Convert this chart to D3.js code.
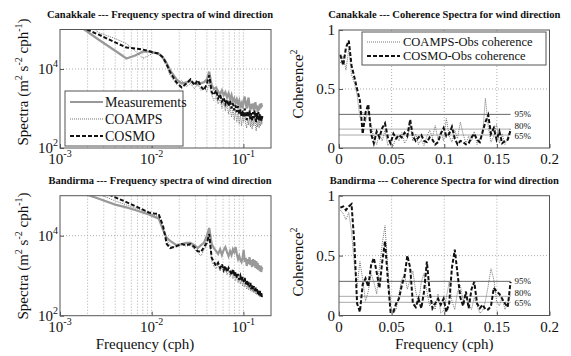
<!DOCTYPE html>
<html>
<head>
<meta charset="utf-8">
<script src="https://cdn.jsdelivr.net/npm/d3@7"></script>
<style>
body { margin: 0; background: #fff; }
svg text { font-family: "Liberation Serif", "Times New Roman", "DejaVu Serif", serif; fill: #111; }
</style>
</head>
<body>
<svg id="chart" width="571" height="356" font-family="Liberation Serif, DejaVu Serif, serif"></svg>
<script>

// spectra frequencies (cph)
var specFreq = [0.0013, 0.00265, 0.0040, 0.0053, 0.0066, 0.0080, 0.0093, 0.0106, 0.0119, 0.0133, 0.0146,
  0.0159, 0.0186, 0.0212, 0.0239, 0.0265, 0.0292, 0.0318, 0.0345, 0.0371, 0.0398,
  0.0424, 0.0451, 0.0477, 0.0504, 0.0530, 0.0557, 0.0583, 0.0610, 0.0636, 0.0663,
  0.0689, 0.0716, 0.0742, 0.0769, 0.0795, 0.0822, 0.0848, 0.0875, 0.0901, 0.0928,
  0.0954, 0.0981, 0.1007, 0.1034, 0.1060, 0.1087, 0.1113, 0.1140, 0.1166, 0.1193,
  0.1219, 0.1246, 0.1272, 0.1299, 0.1325, 0.1352, 0.1378, 0.1405, 0.1431, 0.1458,
  0.1484, 0.1511, 0.1537, 0.1564, 0.1590, 0.1617];

// Canakkale spectra
var canMeas = [175000, 55000, 29000, 18500, 22000, 27500, 27500, 26000, 24500, 19500, 14000,
  9200, 5500, 4300, 4600, 4900, 4300, 4100, 4400, 4600, 5400,
  8600, 3900, 3100, 3400, 2700, 2300, 2900, 2160, 2600, 1900,
  2400, 1700, 2200, 1500, 1800, 1350, 1700, 1300, 1600, 1150,
  1350, 1000, 1600, 2000, 1300, 1000, 1500, 1900, 1100, 900,
  1300, 1000, 1350, 900, 1150, 1450, 950, 1200, 810, 1150,
  900, 1300, 1000, 1350, 1150, 1200];
var canCoamps = [300000, 83000, 59000, 44000, 29000, 18500, 22000, 26000, 23000, 17500, 11500,
  6900, 4100, 5200, 3600, 4300, 3200, 4100, 2900, 3600, 2600,
  4600, 2200, 1600, 2000, 1300, 1700, 1000, 1450, 860, 1300,
  720, 1150, 600, 950, 510, 860, 450, 760, 400, 720,
  360, 640, 450, 810, 400, 320, 570, 380, 640, 340,
  540, 300, 510, 360, 570, 400, 270, 480, 340, 540,
  320, 510, 360, 480, 400, 570];
var canCosmo = [150000, 74000, 47000, 35000, 33000, 31000, 28500, 26000, 24500, 19500, 13000,
  8200, 4600, 3400, 4300, 5500, 3900, 5200, 3600, 2900, 4100,
  6900, 2600, 2200, 2900, 1800, 2300, 1500, 1900, 1300, 1700,
  1150, 1600, 1000, 1350, 900, 1200, 810, 1150, 720, 950,
  640, 900, 600, 1000, 720, 510, 860, 600, 900, 540,
  760, 480, 810, 570, 900, 640, 450, 760, 540, 810,
  510, 720, 480, 680, 570, 640];

// Bandirma spectra
var banMeas = [148000, 84000, 60000, 51000, 44000, 38000, 34000, 30000, 27000, 14000, 8800,
  7400, 5800, 6200, 6600, 6600, 5800, 4900, 5800, 6600, 9800,
  15600, 6200, 4900, 4100, 3500, 4600, 3300, 4400, 5200, 3900,
  3100, 4100, 3300, 4600, 3900, 5200, 3500, 2600, 3100, 2460,
  2200, 2900, 4400, 2200, 2800, 1750, 2600, 1950, 2900, 1850,
  2460, 1650, 2600, 1750, 2460, 1560, 2300, 1470, 2100, 1390,
  1850, 1300, 1750, 1240, 1560, 1470];
var banCoamps = [220000, 110000, 74000, 59000, 49000, 43000, 37000, 33000, 30000, 15600, 7800,
  5500, 5200, 5800, 5500, 5800, 4600, 3700, 3100, 4400, 5800,
  9300, 2300, 1750, 1470, 1950, 1300, 1650, 1170, 1560, 1040,
  1390, 930, 1240, 830, 1100, 740, 980, 660, 880, 620,
  780, 550, 740, 520, 660, 460, 585, 440, 550, 415,
  520, 390, 490, 370, 460, 350, 440, 330, 415, 310,
  390, 295, 370, 310, 350, 370];
var banCosmo = [280000, 140000, 91000, 69000, 55000, 45000, 38000, 36000, 35000, 17500, 6200,
  4900, 5500, 6200, 5800, 6200, 5200, 4100, 3900, 5200, 6600,
  11000, 2800, 2200, 1750, 2100, 1560, 1950, 1390, 1750, 1240,
  1560, 1300, 1040, 1470, 980, 1240, 880, 1100, 780, 980,
  740, 930, 700, 880, 620, 780, 550, 700, 520, 660,
  460, 585, 440, 550, 415, 520, 390, 460, 350, 440,
  330, 415, 310, 390, 295, 330];

// coherence frequencies (cph)
var cohFreq = [0.0013, 0.0040, 0.0066, 0.0093, 0.0119, 0.0146, 0.0172, 0.0199, 0.0225, 0.0252,
  0.0278, 0.0305, 0.0331, 0.0358, 0.0384, 0.0411, 0.0437, 0.0464, 0.0490, 0.0517,
  0.0543, 0.0570, 0.0596, 0.0623, 0.0649, 0.0676, 0.0702, 0.0729, 0.0755, 0.0782,
  0.0808, 0.0835, 0.0861, 0.0888, 0.0914, 0.0941, 0.0967, 0.0994, 0.1020, 0.1047,
  0.1073, 0.1100, 0.1126, 0.1153, 0.1179, 0.1206, 0.1232, 0.1259, 0.1285, 0.1312,
  0.1338, 0.1365, 0.1391, 0.1418, 0.1444, 0.1471, 0.1497, 0.1524, 0.1550, 0.1577,
  0.1603, 0.1630];

var canCohCoamps = [0.72, 0.78, 0.66, 0.84, 0.62, 0.55, 0.45, 0.26, 0.30, 0.22,
  0.33, 0.20, 0.08, 0.03, 0.12, 0.06, 0.15, 0.02, 0.05, 0.02,
  0.10, 0.06, 0.13, 0.04, 0.08, 0.20, 0.06, 0.12, 0.03, 0.07,
  0.02, 0.10, 0.15, 0.09, 0.19, 0.07, 0.14, 0.06, 0.25, 0.10,
  0.05, 0.15, 0.08, 0.22, 0.12, 0.04, 0.10, 0.06, 0.14, 0.03,
  0.08, 0.12, 0.42, 0.18, 0.05, 0.10, 0.20, 0.04, 0.12, 0.03,
  0.09, 0.17];
var canCohCosmo = [0.79, 0.70, 0.85, 0.91, 0.70, 0.60, 0.50, 0.40, 0.12, 0.30,
  0.37, 0.12, 0.04, 0.14, 0.09, 0.17, 0.21, 0.09, 0.04, 0.12,
  0.08, 0.11, 0.09, 0.13, 0.10, 0.24, 0.10, 0.06, 0.09, 0.11,
  0.06, 0.05, 0.09, 0.07, 0.03, 0.05, 0.12, 0.17, 0.10, 0.12,
  0.18, 0.08, 0.03, 0.06, 0.05, 0.03, 0.04, 0.09, 0.12, 0.07,
  0.05, 0.14, 0.22, 0.28, 0.12, 0.17, 0.07, 0.14, 0.04, 0.06,
  0.07, 0.15];
var banCohCoamps = [0.88, 0.85, 0.80, 0.86, 0.70, 0.42, 0.25, 0.45, 0.30, 0.12,
  0.20, 0.35, 0.28, 0.18, 0.40, 0.60, 0.75, 0.40, 0.08, 0.02,
  0.05, 0.18, 0.30, 0.34, 0.22, 0.30, 0.37, 0.20, 0.10, 0.28,
  0.35, 0.20, 0.08, 0.12, 0.05, 0.18, 0.02, 0.04, 0.15, 0.28,
  0.12, 0.05, 0.20, 0.25, 0.12, 0.18, 0.10, 0.05, 0.15, 0.08,
  0.02, 0.04, 0.12, 0.25, 0.39, 0.30, 0.12, 0.08, 0.15, 0.05,
  0.10, 0.18];
var banCohCosmo = [0.90, 0.91, 0.88, 0.91, 0.93, 0.60, 0.10, 0.03, 0.26, 0.31,
  0.24, 0.42, 0.48, 0.36, 0.23, 0.45, 0.62, 0.30, 0.03, 0.03,
  0.10, 0.14, 0.25, 0.33, 0.50, 0.40, 0.10, 0.07, 0.14, 0.06,
  0.20, 0.45, 0.20, 0.06, 0.10, 0.14, 0.09, 0.14, 0.03, 0.10,
  0.40, 0.55, 0.35, 0.15, 0.08, 0.20, 0.06, 0.22, 0.28, 0.10,
  0.06, 0.09, 0.05, 0.05, 0.08, 0.23, 0.20, 0.18, 0.14, 0.10,
  0.07, 0.28];

// significance levels
var sigLevels = [0.285, 0.16, 0.11];
var sigNames = ["95%", "80%", "65%"];
var sigEnd = 0.163;

// ticks
var specXTicks = [[1e-3, "-3"], [1e-2, "-2"], [1e-1, "-1"]];
var specYTicks = [[1e2, "2"], [1e4, "4"]];
var cohXTicks = [0, 0.05, 0.1, 0.15, 0.2];
var cohYTicks = [0, 0.5, 1];

var specNames = ["Measurements", "COAMPS", "COSMO"];
var cohNames = ["COAMPS-Obs coherence", "COSMO-Obs coherence"];

var SERIF = "'Liberation Serif', 'DejaVu Serif', serif";

var sty = {
  meas:   {stroke: "#999", w: 2.2, dash: null},
  coamps: {stroke: "#777", w: 1, dash: "1,1"},
  cosmo:  {stroke: "#111", w: 2, dash: "4,2"}
};

var svg = d3.select("#chart");
svg.append("rect").attr("width", 571).attr("height", 356).attr("fill", "#fff");

function styled(sel, s) {
  sel.attr("fill", "none").attr("stroke", s.stroke).attr("stroke-width", s.w);
  if (s.dash) sel.attr("stroke-dasharray", s.dash);
  return sel;
}

function txt(g, x, y, size) {
  return g.append("text").attr("x", x).attr("y", y)
    .style("font-family", SERIF).style("font-size", size + "px");
}

function powText(g, x, y, exp, anchor) {
  var t = txt(g, x, y, 15).attr("text-anchor", anchor);
  t.append("tspan").text("10");
  t.append("tspan").attr("dy", -7).style("font-size", "10px").text(exp);
  return t;
}

function frame(g, p) {
  g.append("rect").attr("x", p.x0).attr("y", p.y0)
    .attr("width", p.x1 - p.x0).attr("height", p.y1 - p.y0)
    .attr("fill", "none").attr("stroke", "#555").attr("stroke-width", 1);
}

function spectraPanel(p) {
  var x = d3.scaleLog().domain([1e-3, 0.2]).range([p.x0, p.x1]);
  var y = d3.scaleLog().domain([1e2, 1e5]).range([p.y1, p.y0]);
  var g = svg.append("g");

  // minor log grid
  var grid = x.ticks().filter(function(d) { return d > 1.001e-3 && d < 0.15; });
  g.selectAll(".vg").data(grid).enter().append("line")
    .attr("x1", function(d) { return x(d); }).attr("x2", function(d) { return x(d); })
    .attr("y1", p.y0).attr("y2", p.y1)
    .attr("stroke", "#999").attr("stroke-width", 0.8).attr("stroke-dasharray", "1,2");
  g.append("line").attr("x1", p.x0).attr("x2", p.x1)
    .attr("y1", y(1e4)).attr("y2", y(1e4))
    .attr("stroke", "#999").attr("stroke-width", 0.8).attr("stroke-dasharray", "1,2");

  svg.append("clipPath").attr("id", "c" + p.id).append("rect")
    .attr("x", p.x0).attr("y", p.y0).attr("width", p.x1 - p.x0).attr("height", p.y1 - p.y0);

  var line = d3.line().x(function(d) { return x(d[0]); }).y(function(d) { return y(d[1]); });
  var series = [[p.meas, sty.meas], [p.coamps, sty.coamps], [p.cosmo, sty.cosmo]];
  series.forEach(function(s) {
    styled(g.append("path").attr("clip-path", "url(#c" + p.id + ")")
      .attr("d", line(specFreq.map(function(f, i) { return [f, s[0][i]]; }))), s[1]);
  });

  frame(g, p);

  // inward ticks
  g.append("g").attr("transform", "translate(0," + p.y1 + ")")
    .call(d3.axisBottom(x).tickValues(specXTicks.map(function(d) { return d[0]; }))
      .tickSize(-4).tickFormat(""))
    .call(function(a) { a.select(".domain").remove(); a.selectAll("line").attr("stroke", "#555"); });
  g.append("g").attr("transform", "translate(" + p.x0 + ",0)")
    .call(d3.axisLeft(y).tickValues(specYTicks.map(function(d) { return d[0]; }))
      .tickSize(-4).tickFormat(""))
    .call(function(a) { a.select(".domain").remove(); a.selectAll("line").attr("stroke", "#555"); });

  specXTicks.forEach(function(t) { powText(g, x(t[0]), p.y1 + 16, t[1], "middle"); });
  specYTicks.forEach(function(t) { powText(g, p.x0 - 2, y(t[0]) + 5, t[1], "end"); });

  txt(g, p.tx, p.y0 - 12, 10.5).attr("text-anchor", "middle")
    .style("font-weight", "bold").text(p.title);

  var yl = g.append("text").attr("transform", "translate(28," + p.ly + ") rotate(-90)")
    .attr("text-anchor", "middle").style("font-family", SERIF).style("font-size", "15px");
  yl.append("tspan").text("Spectra (m");
  yl.append("tspan").attr("dy", -6).style("font-size", "10px").text("2");
  yl.append("tspan").attr("dy", 6).text(" s");
  yl.append("tspan").attr("dy", -6).style("font-size", "10px").text("-2");
  yl.append("tspan").attr("dy", 6).text(" cph");
  yl.append("tspan").attr("dy", -6).style("font-size", "10px").text("-1");
  yl.append("tspan").attr("dy", 6).text(")");

  if (p.xlabel) {
    txt(g, 145, 349, 15).attr("text-anchor", "middle").text("Frequency (cph)");
  }

  if (p.legend) {
    var lg = g.append("g");
    lg.append("rect").attr("x", 65).attr("y", 91).attr("width", 118).attr("height", 55)
      .attr("fill", "#fff").attr("stroke", "#555");
    [sty.meas, sty.coamps, sty.cosmo].forEach(function(s, i) {
      var cy = 102 + i * 17;
      styled(lg.append("line").attr("x1", 70).attr("x2", 103).attr("y1", cy).attr("y2", cy), s);
      txt(lg, 105, cy + 5, 14).text(specNames[i]);
    });
  }
}

function coherencePanel(p) {
  var x = d3.scaleLinear().domain([0, 0.2]).range([p.x0, p.x1]);
  var y = d3.scaleLinear().domain([0, 1]).range([p.y1, p.y0]);
  var g = svg.append("g");

  [0.05, 0.1, 0.15].forEach(function(v) {
    g.append("line").attr("x1", x(v)).attr("x2", x(v)).attr("y1", p.y0).attr("y2", p.y1)
      .attr("stroke", "#999").attr("stroke-width", 0.8).attr("stroke-dasharray", "1,2");
  });
  g.append("line").attr("x1", p.x0).attr("x2", p.x1).attr("y1", y(0.5)).attr("y2", y(0.5))
    .attr("stroke", "#999").attr("stroke-width", 0.8).attr("stroke-dasharray", "1,2");

  sigLevels.forEach(function(v, i) {
    g.append("line").attr("x1", x(0)).attr("x2", x(sigEnd)).attr("y1", y(v)).attr("y2", y(v))
      .attr("stroke", i === 0 ? "#666" : "#aaa").attr("stroke-width", 1);
  });

  var line = d3.line().x(function(d) { return x(d[0]); }).y(function(d) { return y(d[1]); });
  [[p.coamps, sty.coamps], [p.cosmo, sty.cosmo]].forEach(function(s) {
    styled(g.append("path")
      .attr("d", line(cohFreq.map(function(f, i) { return [f, s[0][i]]; }))), s[1]);
  });

  var offs = [3, 0, 4];
  sigLevels.forEach(function(v, i) {
    txt(g, x(sigEnd) + 4, y(v) + offs[i], 9).text(sigNames[i]);
  });

  frame(g, p);

  g.append("g").attr("transform", "translate(0," + p.y1 + ")")
    .call(d3.axisBottom(x).tickValues(cohXTicks).tickSize(-4).tickFormat(""))
    .call(function(a) { a.select(".domain").remove(); a.selectAll("line").attr("stroke", "#555"); });
  g.append("g").attr("transform", "translate(" + p.x0 + ",0)")
    .call(d3.axisLeft(y).tickValues(cohYTicks).tickSize(-4).tickFormat(""))
    .call(function(a) { a.select(".domain").remove(); a.selectAll("line").attr("stroke", "#555"); });

  cohXTicks.forEach(function(v) {
    txt(g, x(v), p.y1 + 16, 15).attr("text-anchor", "middle").text(d3.format("")(v));
  });
  cohYTicks.forEach(function(v) {
    txt(g, p.x0 - 4, y(v) + 5, 15).attr("text-anchor", "end").text(d3.format("")(v));
  });

  txt(g, (p.x0 + p.x1) / 2, p.y0 - 12, 10.5).attr("text-anchor", "middle")
    .style("font-weight", "bold").text(p.title);

  var yl = g.append("text").attr("transform", "translate(303," + p.ly + ") rotate(-90)")
    .attr("text-anchor", "middle").style("font-family", SERIF).style("font-size", "15px");
  yl.append("tspan").text("Coherence");
  yl.append("tspan").attr("dy", -6).style("font-size", "10px").text("2");

  if (p.xlabel) {
    txt(g, (p.x0 + p.x1) / 2, 349, 15).attr("text-anchor", "middle").text("Frequency (cph)");
  }

  if (p.legend) {
    var lg = g.append("g");
    lg.append("rect").attr("x", 362).attr("y", 32).attr("width", 184).attr("height", 33)
      .attr("fill", "#fff").attr("stroke", "#555");
    [sty.coamps, sty.cosmo].forEach(function(s, i) {
      var cy = 42 + i * 14;
      styled(lg.append("line").attr("x1", 367).attr("x2", 400).attr("y1", cy).attr("y2", cy), s);
      txt(lg, 403, cy + 4, 12.5).text(cohNames[i]);
    });
  }
}

spectraPanel({id: "tl", x0: 60, x1: 271, y0: 29.5, y1: 148, tx: 160, ly: 82,
  title: "Canakkale --- Frequency spectra of wind direction",
  meas: canMeas, coamps: canCoamps, cosmo: canCosmo, legend: true, xlabel: false});
spectraPanel({id: "bl", x0: 60, x1: 271, y0: 195.7, y1: 315.7, tx: 160, ly: 256,
  title: "Bandirma --- Frequency spectra of wind direction",
  meas: banMeas, coamps: banCoamps, cosmo: banCosmo, legend: false, xlabel: true});
coherencePanel({id: "tr", x0: 339, x1: 549.5, y0: 30, y1: 148, ly: 84,
  title: "Canakkale --- Coherence Spectra for wind direction",
  coamps: canCohCoamps, cosmo: canCohCosmo, legend: true, xlabel: false});
coherencePanel({id: "br", x0: 339, x1: 549.5, y0: 195.7, y1: 315.5, ly: 262,
  title: "Bandirma --- Coherence Spectra for wind direction",
  coamps: banCohCoamps, cosmo: banCohCosmo, legend: false, xlabel: true});

</script>
</body>
</html>
